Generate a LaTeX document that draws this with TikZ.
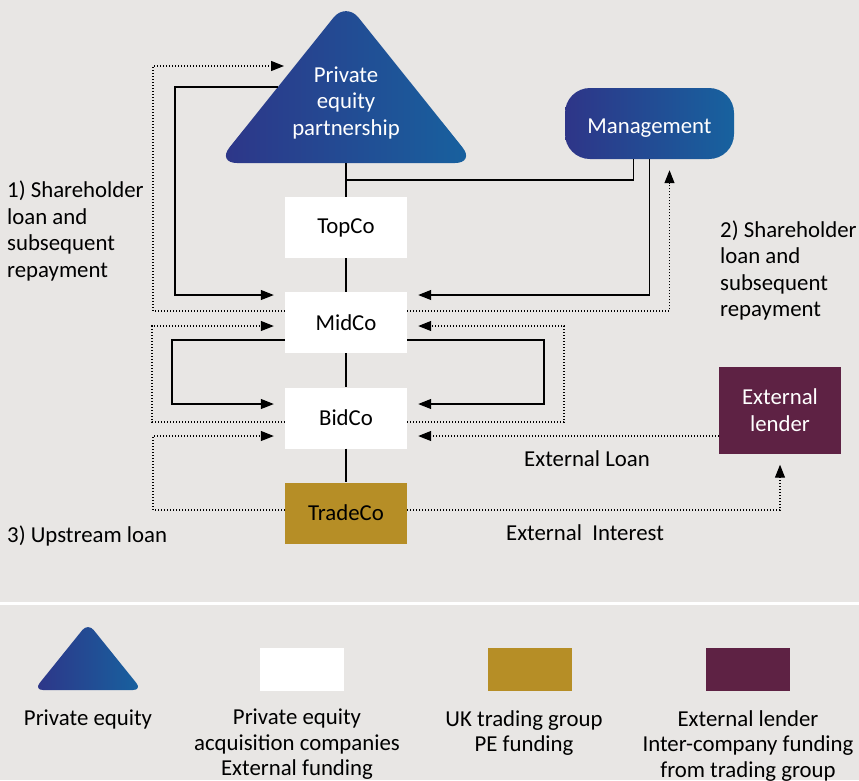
\documentclass[tikz,border=0pt]{standalone}
\usepackage{fontspec}
\setmainfont{Carlito}
\usetikzlibrary{arrows.meta}

\definecolor{bgGrey}{HTML}{E8E6E4}
\definecolor{peDark}{HTML}{2E3588}
\definecolor{peBlue}{HTML}{17629F}
\definecolor{tradeGold}{HTML}{B68E26}
\definecolor{lenderPlum}{HTML}{5E2244}

\begin{document}
\begin{tikzpicture}[x=1pt, y=-1pt,
  every node/.style={font=\fontsize{22.8}{26.5}\selectfont},
  company/.style={fill=white, minimum width=122pt, minimum height=61pt, inner sep=0pt},
  link/.style={line width=1.2pt},
  loan/.style={line width=1.2pt, dash pattern=on 1.2pt off 1.8pt},
  arrowed/.style={-{Triangle[length=13pt,width=10pt]}, shorten >=11pt},
  note/.style={align=left, inner sep=0pt},
  keytext/.style={anchor=north, align=center, inner sep=0pt, font=\fontsize{22.8}{25.5}\selectfont}]
\useasboundingbox[fill=bgGrey] (0,0) rectangle (859,780);
\draw[white, line width=3pt] (0,603) -- (859,603);

% private equity partnership
\coordinate (peTop) at (346,2);
\coordinate (peLeft) at (217,163);
\coordinate (peRight) at (475,163);
\shade[left color=peDark, right color=peBlue, rounded corners=20pt] (peTop) -- (peRight) -- (peLeft) -- cycle;
\node[text=white, align=center] (pep) at (346,102.5) {Private\\equity\\partnership};
\coordinate (peBase) at (346,163);
\coordinate (peSide) at (278,87);
\coordinate (peDot) at (295,66);
\coordinate (tee) at (346,180);

\node[rounded corners=25pt, left color=peDark, right color=peBlue, minimum width=169pt, minimum height=71pt,
  text height=24pt, text depth=4.5pt, text=white] (mgmt) at (649.5,123.5) {Management};

% group companies
\node[company] (topco) at (346,227.5) {TopCo};
\node[company] (midco) at (346,322.5) {MidCo};
\node[company] (bidco) at (346,418) {BidCo};
\node[company, fill=tradeGold] (tradeco) at (346,513) {TradeCo};
\node[fill=lenderPlum, text=white, align=center, minimum width=122pt, minimum height=87pt, inner sep=0pt] (lender) at (780,410) {External\\lender};

% ownership
\draw[link] (peBase) -- (topco);
\draw[link] (topco) -- (midco);
\draw[link] (midco) -- (bidco);
\draw[link] (bidco) -- (tradeco);
\draw[link] (tee) -| ([xshift=-16pt]mgmt.south);
\draw[link, arrowed] (mgmt.south) |- (midco.east |- 0,295);
\draw[link, arrowed] (peSide) -| (175,295) -- (midco.west |- 0,295);
\draw[link, arrowed] (midco.west |- 0,340) -| (172,404) -- (bidco.west |- 0,404);
\draw[link, arrowed] (midco.east |- 0,340) -| (544,404) -- (bidco.east |- 0,404);

% loans
\draw[loan, arrowed] (midco.west |- 0,311) -| (153,66) -- (peDot);
\draw[loan, arrowed] (midco.east |- 0,311) -| ([xshift=20pt]mgmt.south);
\draw[loan, arrowed] (bidco.west |- 0,422) -| (152,326) -- (midco.west |- 0,326);
\draw[loan, arrowed] (bidco.east |- 0,422) -| (564,326) -- (midco.east |- 0,326);
\draw[loan, arrowed] (tradeco.west |- 0,510) -| (153,436) -- (bidco.west |- 0,436);
\draw[loan, arrowed] (lender.west |- 0,436) -- (bidco.east |- 0,436);
\draw[loan, arrowed] (tradeco.east |- 0,510) -| (lender.south);

% notes
\node[note, anchor=west] (noteOne) at (7,231) {1) Shareholder\\loan and\\subsequent\\repayment};
\node[note, anchor=west] (noteTwo) at (720,270.5) {2) Shareholder\\loan and\\subsequent\\repayment};
\node[note, anchor=base west] (noteThree) at (7,542) {3) Upstream loan};
\node[note] (extLoan) at (587,459) {External Loan};
\node[note] (extInterest) at (585,533) {External\ \ Interest};

% key
\shade[left color=peDark, right color=peBlue, rounded corners=9pt] (88,623) -- (142,690) -- (34,690) -- cycle;
\node[fill=white, minimum width=84pt, minimum height=43pt, inner sep=0pt] (keyAcq) at (302,669.5) {};
\node[fill=tradeGold, minimum width=84pt, minimum height=43pt, inner sep=0pt] (keyTrade) at (530,669.5) {};
\node[fill=lenderPlum, minimum width=84pt, minimum height=43pt, inner sep=0pt] (keyLender) at (748,669.5) {};
\node[keytext] (keyPEText) at (88,710) {Private equity};
\node[keytext] (keyAcqText) at (297,709) {Private equity\\acquisition companies\\External funding};
\node[keytext] (keyTradeText) at (524,710) {UK trading group\\PE funding};
\node[keytext] (keyLenderText) at (748,710) {External lender\\Inter-company funding\\from trading group};
\end{tikzpicture}
\end{document}
